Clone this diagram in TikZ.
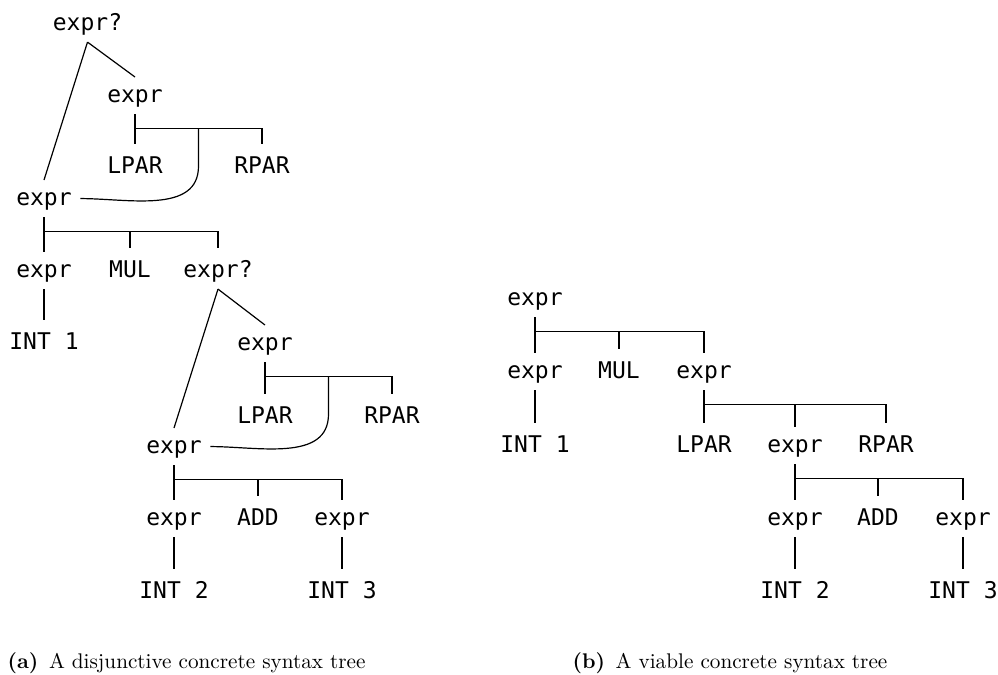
\documentclass[tikz,border=0pt]{standalone}
\usepackage{fontspec}
\setmonofont{DejaVu Sans Mono}
\usepackage{tikz}
\usetikzlibrary{calc}
\tikzset{sym/.style = {font=\ttfamily\fontsize{11.5}{14}\selectfont, anchor=base,
                       text depth=0pt, inner xsep=4pt, inner ysep=5.75pt}}
\tikzset{subcap/.style = {font=\fontsize{10.6}{13}\selectfont, anchor=base west, inner sep=0}}
\begin{document}
\begin{tikzpicture}[x=0.5pt, y=-0.5pt, line width=0.6pt]
    \useasboundingbox (0, 0) rectangle (998, 675);

    % (a) disjunctive tree
    \node [sym] (q1) at (87.5, 30) {expr?};
    \node [sym] (e2) at (135, 102) {expr};
    \node [sym] (lp1) at (135, 173) {LPAR};
    \node [sym] (rp1) at (262, 173) {RPAR};
    \node [sym] (e3) at (44, 205) {expr};
    \node [sym] (e4) at (44, 277) {expr};
    \node [sym] (mul1) at (130, 277) {MUL};
    \node [sym] (q2) at (218, 277) {expr?};
    \node [sym] (int1) at (44, 349) {INT 1};
    \node [sym] (e5) at (265, 350) {expr};
    \node [sym] (lp2) at (265, 423) {LPAR};
    \node [sym] (rp2) at (392, 423) {RPAR};
    \node [sym] (e6) at (174, 453) {expr};
    \node [sym] (e7) at (174, 525) {expr};
    \node [sym] (add1) at (258, 525) {ADD};
    \node [sym] (e8) at (342, 525) {expr};
    \node [sym] (int2) at (174, 598) {INT 2};
    \node [sym] (int3) at (342, 598) {INT 3};

    \draw (q1.south) -- (e2.north);
    \draw (q1.south) -- (e3.north);
    \draw (e2.south) -- ++(0, 14) coordinate (b2);
    \foreach \c in {lp1, rp1} \draw (b2) -| (\c.north);
    \draw ($(b2)!0.5!(b2 -| rp1)$) -- ++(0, 38) to [out=-90, in=0] (e3.east);
    \draw (e3.south) -- ++(0, 14) coordinate (b3);
    \foreach \c in {e4, mul1, q2} \draw (b3) -| (\c.north);
    \draw (e4.south) -- (int1.north);

    \draw (q2.south) -- (e5.north);
    \draw (q2.south) -- (e6.north);
    \draw (e5.south) -- ++(0, 14) coordinate (b5);
    \foreach \c in {lp2, rp2} \draw (b5) -| (\c.north);
    \draw ($(b5)!0.5!(b5 -| rp2)$) -- ++(0, 38) to [out=-90, in=0] (e6.east);
    \draw (e6.south) -- ++(0, 14) coordinate (b6);
    \foreach \c in {e7, add1, e8} \draw (b6) -| (\c.north);
    \draw (e7.south) -- (int2.north);
    \draw (e8.south) -- (int3.north);

    % (b) viable tree
    \node [sym] (r1) at (535, 305) {expr};
    \node [sym] (r2) at (535, 378) {expr};
    \node [sym] (mul2) at (619, 378) {MUL};
    \node [sym] (r3) at (704, 378) {expr};
    \node [sym] (int4) at (535, 452) {INT 1};
    \node [sym] (lp3) at (704, 452) {LPAR};
    \node [sym] (r4) at (795, 452) {expr};
    \node [sym] (rp3) at (886, 452) {RPAR};
    \node [sym] (r5) at (795, 525) {expr};
    \node [sym] (add2) at (878, 525) {ADD};
    \node [sym] (r6) at (963, 525) {expr};
    \node [sym] (int5) at (795, 598) {INT 2};
    \node [sym] (int6) at (963, 598) {INT 3};

    \draw (r1.south) -- ++(0, 14) coordinate (c1);
    \foreach \c in {r2, mul2, r3} \draw (c1) -| (\c.north);
    \draw (r2.south) -- (int4.north);
    \draw (r3.south) -- ++(0, 14) coordinate (c3);
    \foreach \c in {lp3, r4, rp3} \draw (c3) -| (\c.north);
    \draw (r4.south) -- ++(0, 14) coordinate (c4);
    \foreach \c in {r5, add2, r6} \draw (c4) -| (\c.north);
    \draw (r5.south) -- (int5.north);
    \draw (r6.south) -- (int6.north);

    \node [subcap] (capa) at (7, 668) {\textbf{(a)}\enspace A disjunctive concrete syntax tree};
    \node [subcap] (capb) at (572, 668) {\textbf{(b)}\enspace A viable concrete syntax tree};
  \end{tikzpicture}
\end{document}
